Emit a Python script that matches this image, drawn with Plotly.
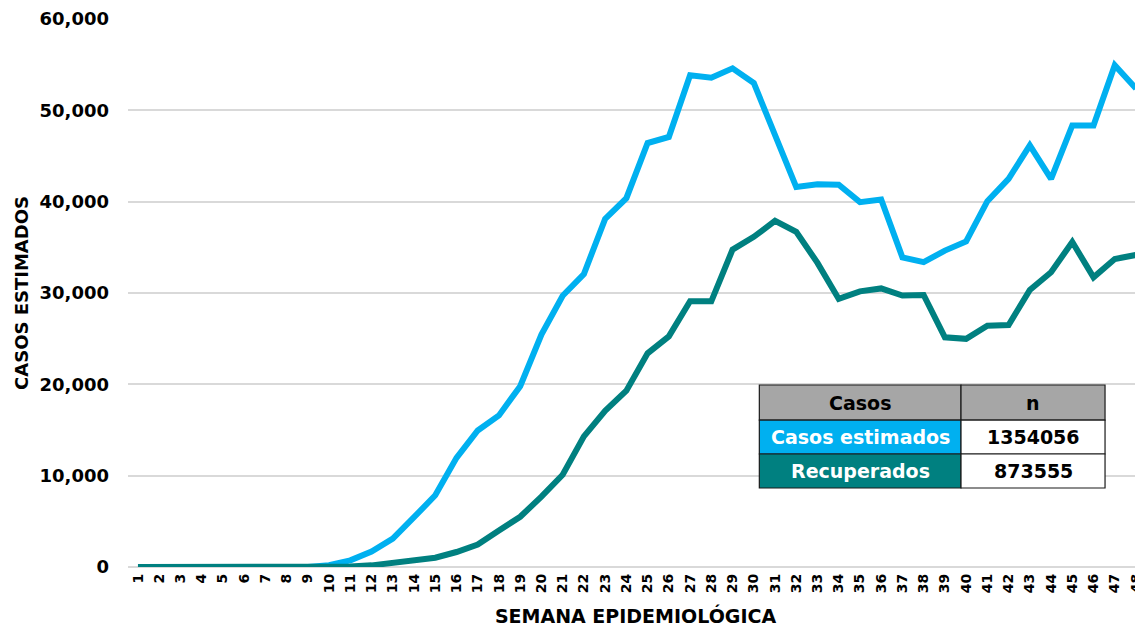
import plotly.graph_objects as go

weeks = list(range(1, 49))
week_labels = [str(w) for w in weeks]

casos_estimados = [0, 0, 0, 0, 0, 0, 0, 0, 0, 200,
                   730, 1700, 3100, 5450, 7850, 11950, 14950, 16600, 19800, 25450,
                   29700, 32080, 38120, 40380, 46420, 47080, 53840, 53580, 54600, 53000,
                   47300, 41600, 41900, 41850, 39950, 40240, 33900, 33380, 34640, 35650,
                   40050, 42500, 46160, 42500, 48350, 48350, 54940, 52380]

recuperados = [0, 0, 0, 0, 0, 0, 0, 0, 0, 0,
               60, 180, 450, 780, 1020, 1640, 2450, 4000, 5500, 7700,
               10100, 14300, 17100, 19300, 23400, 25250, 29090, 29090, 34750, 36150,
               37900, 36700, 33300, 29350, 30180, 30500, 29720, 29780, 25150, 24980,
               26420, 26500, 30330, 32280, 35580, 31720, 33730, 34170]

table_header = ["Casos", "n"]
table_rows = [["Casos estimados", "1354056"], ["Recuperados", "873555"]]

CYAN = "#00B0F0"
TEAL = "#008080"
FONT = "DejaVu Sans"

fig = go.Figure()
fig.add_trace(go.Scatter(x=weeks, y=casos_estimados, mode="lines", name="Casos estimados",
                         line=dict(color=CYAN, width=6)))
fig.add_trace(go.Scatter(x=weeks, y=recuperados, mode="lines", name="Recuperados",
                         line=dict(color=TEAL, width=6)))

# page body has an 8px margin: figure is shifted by 8px, so size/margins compensate
fig.update_layout(
    width=1135, height=621,
    margin=dict(l=120, r=0, t=11, b=62, autoexpand=False),
    paper_bgcolor="white", plot_bgcolor="white",
    showlegend=False,
    font=dict(family=FONT, color="black"),
)
fig.update_xaxes(
    range=[0.53, 48.33],
    tickmode="array", tickvals=weeks, ticktext=week_labels,
    tickangle=-90, tickfont=dict(size=14, family=FONT, weight="bold"),
    ticklabeloverflow="allow", ticklabelstandoff=3,
    showgrid=False, zeroline=False, showline=False, ticks="",
    title=dict(text="SEMANA EPIDEMIOLÓGICA", font=dict(size=19, family=FONT, weight="bold"), standoff=17),
)
fig.update_yaxes(
    range=[0, 60000], tickvals=[0, 10000, 20000, 30000, 40000, 50000, 60000],
    tickformat=",d", tickfont=dict(size=18, family=FONT, weight="bold"),
    showgrid=True, gridcolor="#D9D9D9", gridwidth=1.5,
    zeroline=True, zerolinecolor="#D9D9D9", zerolinewidth=1.5,
    showline=False, ticks="", ticklabelstandoff=18,
    title=dict(text="CASOS ESTIMADOS", font=dict(size=18, family=FONT, weight="bold"), standoff=6),
)

# table drawn as shapes + annotations (paper coordinates)
xs = [0.6220, 0.8207, 0.9626]
ys = [0.3321, 0.2682, 0.2062, 0.1442]
fills = [["#A6A6A6", "#A6A6A6"], [CYAN, "white"], [TEAL, "white"]]
texts = [table_header] + table_rows
tcolors = [["black", "black"], ["white", "black"], ["white", "black"]]
for r in range(3):
    for c in range(2):
        fig.add_shape(type="rect", xref="paper", yref="paper",
                      x0=xs[c], x1=xs[c + 1], y0=ys[r + 1], y1=ys[r],
                      fillcolor=fills[r][c], line=dict(color="#1A1A1A", width=1.2), layer="above")
        fig.add_annotation(xref="paper", yref="paper",
                           x=(xs[c] + xs[c + 1]) / 2, y=(ys[r] + ys[r + 1]) / 2,
                           text=texts[r][c], showarrow=False, xanchor="center", yanchor="middle",
                           font=dict(size=19, family=FONT, weight="bold", color=tcolors[r][c]))

fig.write_html("out.html")
